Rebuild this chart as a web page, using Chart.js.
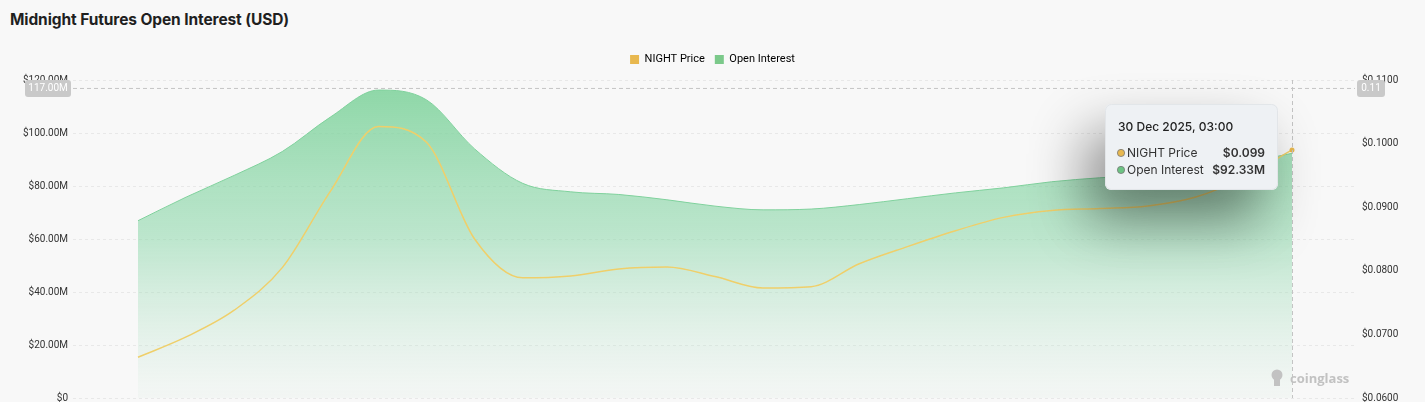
<!DOCTYPE html>
<html>
<head>
<meta charset="utf-8">
<script src="https://cdn.jsdelivr.net/npm/chart.js@4.4.1/dist/chart.umd.min.js"></script>
<style>
  html, body { margin: 0; padding: 0; background: #f8f8f8; }
  #wrap { position: relative; width: 1425px; height: 402px; overflow: hidden; }
  #title { position: absolute; left: 10px; top: 10px; font: 700 15.5px Inter, "Noto Sans", sans-serif; color: #1f1f1f; letter-spacing: -0.1px; }
  canvas { position: absolute; left: 0; top: 0; }
</style>
</head>
<body>
<div id="wrap">
  <div id="title">Midnight Futures Open Interest (USD)</div>
  <canvas id="oiChart" width="1425" height="402"></canvas>
</div>
<script>
// 4h candles, last one is the hovered point
const labels = [
  '26 Dec 2025, 03:00', '26 Dec 2025, 07:00', '26 Dec 2025, 11:00', '26 Dec 2025, 15:00', '26 Dec 2025, 19:00', '26 Dec 2025, 23:00',
  '27 Dec 2025, 03:00', '27 Dec 2025, 07:00', '27 Dec 2025, 11:00', '27 Dec 2025, 15:00', '27 Dec 2025, 19:00', '27 Dec 2025, 23:00',
  '28 Dec 2025, 03:00', '28 Dec 2025, 07:00', '28 Dec 2025, 11:00', '28 Dec 2025, 15:00', '28 Dec 2025, 19:00', '28 Dec 2025, 23:00',
  '29 Dec 2025, 03:00', '29 Dec 2025, 07:00', '29 Dec 2025, 11:00', '29 Dec 2025, 15:00', '29 Dec 2025, 19:00', '29 Dec 2025, 23:00',
  '30 Dec 2025, 03:00'
];

// open interest in USD
const openInterest = [
  66.9e6, 75.8e6, 84.0e6, 93.0e6, 106.0e6, 116.2e6, 112.5e6, 94.0e6, 81.0e6, 77.8e6,
  76.8e6, 74.8e6, 72.4e6, 71.0e6, 71.3e6, 73.0e6, 75.2e6, 77.4e6, 79.3e6, 81.6e6,
  83.1e6, 84.2e6, 86.0e6, 88.7e6, 92.33e6
];

// NIGHT price in USD
const nightPrice = [
  0.0664, 0.0696, 0.0738, 0.0805, 0.0925, 0.1027, 0.1002, 0.0850, 0.0789, 0.0792,
  0.0803, 0.0806, 0.0791, 0.0773, 0.0775, 0.0811, 0.0838, 0.0863, 0.0884, 0.0895,
  0.0898, 0.0902, 0.0916, 0.0947, 0.0990
];

const leftTicks = { min: 0, max: 120e6, step: 20e6 };
const rightTicks = { min: 0.06, max: 0.11, step: 0.01 };

// crosshair position (mouse) and hovered index
const crossValue = 117e6;
const hoverIndex = labels.length - 1;

const PRICE_COLOR = '#efcf6a';
const OI_COLOR = '#7fd19c';

function fmtMillions(v) {
  return '$' + (v / 1e6).toFixed(2) + 'M';
}

// custom tooltip + crosshair like the coinglass widget
const crosshairPlugin = {
  id: 'crosshair',
  afterDatasetsDraw(chart) {
    const { ctx, chartArea } = chart;
    const yL = chart.scales.y;
    const yR = chart.scales.y1;
    const xS = chart.scales.x;
    const px = xS.getPixelForValue(hoverIndex);
    const cy = yL.getPixelForValue(crossValue);

    ctx.save();
    ctx.strokeStyle = '#c4c4c4';
    ctx.lineWidth = 1;
    ctx.setLineDash([4, 3]);
    ctx.beginPath();
    ctx.moveTo(chartArea.left, cy + 0.5);
    ctx.lineTo(chartArea.right, cy + 0.5);
    ctx.moveTo(px + 0.5, chartArea.top);
    ctx.lineTo(px + 0.5, chartArea.bottom);
    ctx.stroke();
    ctx.setLineDash([]);

    // axis badges
    ctx.font = '10px Roboto, sans-serif';
    ctx.textBaseline = 'middle';
    ctx.fillStyle = '#c9c9c9';
    ctx.beginPath();
    ctx.roundRect(25, cy - 8, 46, 17, 3);
    ctx.fill();
    ctx.beginPath();
    ctx.roundRect(chartArea.right + 2, cy - 8, 28, 17, 3);
    ctx.fill();
    ctx.fillStyle = '#ffffff';
    ctx.textAlign = 'center';
    ctx.fillText((crossValue / 1e6).toFixed(2) + 'M', 48, cy + 1);
    ctx.fillText(yR.getValueForPixel(cy).toFixed(2), chartArea.right + 16, cy + 1);

    // tooltip box
    const bw = 173, bh = 86;
    const bx = px - 14 - bw;
    const by = cy + 16;
    ctx.save();
    ctx.shadowColor = 'rgba(0,0,0,0.45)';
    ctx.shadowBlur = 55;
    ctx.shadowOffsetX = -18;
    ctx.shadowOffsetY = 30;
    ctx.fillStyle = '#eef1f4';
    ctx.beginPath();
    ctx.roundRect(bx, by, bw, bh, 6);
    ctx.fill();
    ctx.restore();
    ctx.strokeStyle = '#e2e5e8';
    ctx.beginPath();
    ctx.roundRect(bx + 0.5, by + 0.5, bw - 1, bh - 1, 6);
    ctx.stroke();

    ctx.textAlign = 'left';
    ctx.fillStyle = '#222';
    ctx.font = '500 12px Inter, sans-serif';
    ctx.fillText(labels[hoverIndex], bx + 13, by + 23);

    const rows = [
      { color: '#e8b84f', name: 'NIGHT Price', value: '$' + nightPrice[hoverIndex].toFixed(3) },
      { color: '#6cc483', name: 'Open Interest', value: fmtMillions(openInterest[hoverIndex]) }
    ];
    rows.forEach((r, i) => {
      const ry = by + 49 + i * 17;
      ctx.fillStyle = r.color;
      ctx.strokeStyle = '#777';
      ctx.lineWidth = 0.8;
      ctx.beginPath();
      ctx.arc(bx + 16, ry, 3.6, 0, Math.PI * 2);
      ctx.fill();
      ctx.stroke();
      ctx.fillStyle = '#333';
      ctx.font = '12px Inter, sans-serif';
      ctx.textAlign = 'left';
      ctx.fillText(r.name, bx + 22, ry);
      ctx.font = '600 12px Inter, sans-serif';
      ctx.textAlign = 'right';
      ctx.fillText(r.value, bx + bw - 13, ry);
    });

    // watermark
    ctx.fillStyle = '#c2c2c2';
    ctx.beginPath();
    ctx.arc(1277, 375, 5.5, 0, Math.PI * 2);
    ctx.fill();
    ctx.fillRect(1274, 376, 6, 10);
    ctx.font = '700 13px "Open Sans", sans-serif';
    ctx.textAlign = 'left';
    ctx.fillText('coinglass', 1290, 379);
    ctx.restore();
  }
};

window.onload = function() {
  const ctx = document.getElementById('oiChart').getContext('2d');

  const data = {
    datasets: [{
      label: 'NIGHT Price',
      data: nightPrice.map((v, i) => ({ x: i, y: v })),
      yAxisID: 'y1',
      borderColor: PRICE_COLOR,
      backgroundColor: '#e8b84f',
      borderWidth: 1.5,
      fill: false,
      cubicInterpolationMode: 'monotone',
      pointRadius: nightPrice.map((v, i) => i === hoverIndex ? 2.5 : 0),
      pointBackgroundColor: '#e8b84f',
      pointBorderWidth: 0
    }, {
      label: 'Open Interest',
      data: openInterest.map((v, i) => ({ x: i, y: v })),
      yAxisID: 'y',
      borderColor: OI_COLOR,
      backgroundColor: function(context) {
        const area = context.chart.chartArea;
        if (!area) return 'rgba(126,211,153,0.6)';
        const g = context.chart.ctx.createLinearGradient(0, area.top, 0, area.bottom);
        g.addColorStop(0, 'rgba(120,208,150,0.85)');
        g.addColorStop(0.5, 'rgba(140,215,170,0.55)');
        g.addColorStop(1, 'rgba(200,232,214,0.1)');
        return g;
      },
      borderWidth: 1,
      fill: 'origin',
      cubicInterpolationMode: 'monotone',
      pointRadius: 0
    }]
  };

  const options = {
    responsive: false,
    animation: false,
    layout: { padding: { top: 44, bottom: 2, left: 0, right: 0 } },
    plugins: {
      legend: {
        position: 'top',
        labels: {
          boxWidth: 9,
          boxHeight: 9,
          padding: 10,
          color: '#555',
          font: { size: 11, family: 'Roboto, sans-serif' },
          generateLabels: function(chart) {
            const fills = ['#e8b84f', '#7bc98a'];
            return chart.data.datasets.map((ds, i) => ({
              text: ds.label,
              fillStyle: fills[i],
              strokeStyle: fills[i],
              lineWidth: 0,
              datasetIndex: i
            }));
          }
        }
      },
      tooltip: { enabled: false }
    },
    scales: {
      x: {
        type: 'linear',
        display: false,
        min: -1.352,
        max: 25.31
      },
      y: {
        position: 'left',
        min: leftTicks.min,
        max: leftTicks.max,
        afterFit: function(scale) {
          scale.width = 73;
          scale.paddingTop = 0;
          scale.paddingBottom = 0;
        },
        ticks: {
          stepSize: leftTicks.step,
          padding: 5,
          color: '#333',
          font: { size: 10, family: 'Roboto, sans-serif' },
          callback: function(v) { return v === 0 ? '$0' : fmtMillions(v); }
        },
        grid: { color: '#e8e8e8', drawTicks: false },
        border: { display: false, dash: [3, 3] }
      },
      y1: {
        position: 'right',
        min: rightTicks.min,
        max: rightTicks.max,
        afterFit: function(scale) {
          scale.width = 70;
          scale.paddingTop = 0;
          scale.paddingBottom = 0;
        },
        ticks: {
          stepSize: rightTicks.step,
          padding: 7,
          color: '#333',
          font: { size: 10, family: 'Roboto, sans-serif' },
          callback: function(v) { return '$' + v.toFixed(4); }
        },
        grid: { drawOnChartArea: false, drawTicks: false },
        border: { display: false }
      }
    }
  };

  new Chart(ctx, {
    type: 'line',
    data: data,
    options: options,
    plugins: [{
      id: 'legendHeight',
      beforeInit(chart) {
        const fit = chart.legend.fit;
        chart.legend.fit = function() {
          fit.call(this);
          this.height = 36;
        };
      }
    }, crosshairPlugin]
  });
};
</script>
</body>
</html>
